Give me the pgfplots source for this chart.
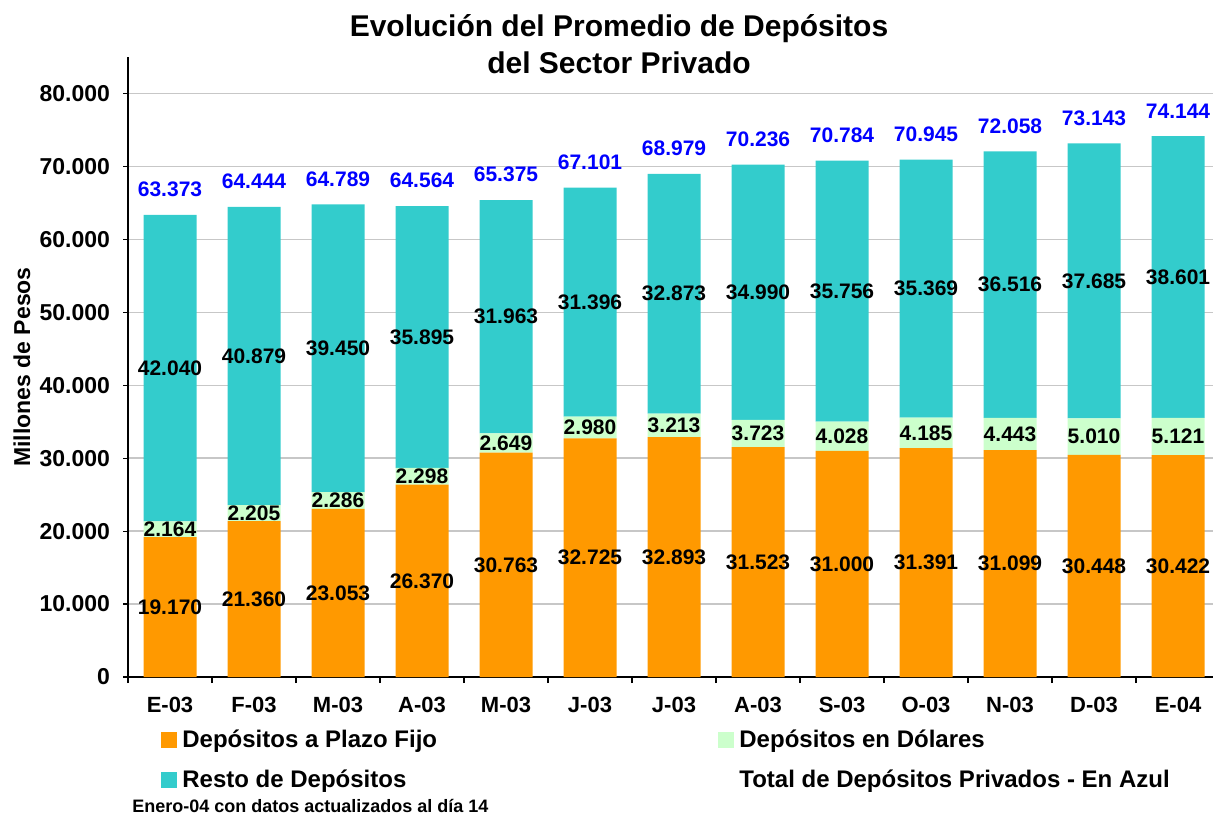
\documentclass[border=0pt]{standalone}
\usepackage{fontspec}
\setmainfont{Liberation Sans}
\usepackage{pgfplots}
\usepackage{pgfplotstable}
\pgfplotsset{compat=1.18}
\definecolor{cOrange}{RGB}{255,153,0}
\definecolor{cTeal}{RGB}{51,204,204}
\definecolor{cGreen}{RGB}{204,255,204}
\definecolor{cBlue}{RGB}{0,0,255}
\newcommand\fs[1]{\fontsize{#1}{#1}\selectfont\bfseries}

\pgfplotstableread{
x a b c tot
0 19170 2164 42040 63373
1 21360 2205 40879 64444
2 23053 2286 39450 64789
3 26370 2298 35895 64564
4 30763 2649 31963 65375
5 32725 2980 31396 67101
6 32893 3213 32873 68979
7 31523 3723 34990 70236
8 31000 4028 35756 70784
9 31391 4185 35369 70945
10 31099 4443 36516 72058
11 30448 5010 37685 73143
12 30422 5121 38601 74144
}\data

\pgfplotsset{
  base/.style={
    scale only axis, width=546pt, height=310pt,
    xmin=-0.5, xmax=12.5, ymin=0, ymax=85000, enlargelimits=false,
    at={(64pt,69.5pt)}, anchor=south west,
    /pgf/number format/fixed, /pgf/number format/precision=0,
    /pgf/number format/1000 sep={.}, /pgf/number format/assume math mode=true,
  }
}

\begin{document}
\begin{tikzpicture}
\useasboundingbox (0,0) rectangle (606.5pt,408pt);
\begin{axis}[base,
  ybar stacked, bar width=26.5pt,
  axis x line*=bottom, axis y line*=left,
  axis line style={black, line width=0.6pt},
  ytick={0,10000,...,80000}, scaled y ticks=false,
  ymajorgrids, grid style={black!22, line width=0.7pt},
  xtick={0,...,12},
  xticklabels={E-03,F-03,M-03,A-03,M-03,J-03,J-03,A-03,S-03,O-03,N-03,D-03,E-04},
  minor xtick={-0.5,0.5,...,12.5},
  tick align=outside, major tick length=2.5pt, minor tick length=3pt,
  tick style={black, line width=0.6pt},
  major x tick style={draw=none},
  xticklabel style={font=\fs{11}, yshift=-4pt},
  yticklabel style={font=\fs{11.5}, xshift=-3pt},
]
\addplot[fill=cOrange, draw=none] table[x=x,y=a]{\data};
\addplot[fill=cGreen, draw=none] table[x=x,y=b]{\data};
\addplot[fill=cTeal, draw=none] table[x=x,y=c]{\data};
\end{axis}
\begin{axis}[base, hide axis, clip=false,
  nodes near coords, point meta=explicit,
  every node near coord/.append style={anchor=center, font=\fs{10.5}, text=black}]
\addplot[draw=none, mark=none] table[x=x, y expr=\thisrow{a}/2, meta=a]{\data};
\addplot[draw=none, mark=none] table[x=x, y expr=\thisrow{a}+\thisrow{b}/2, meta=b]{\data};
\addplot[draw=none, mark=none] table[x=x, y expr=\thisrow{a}+\thisrow{b}+\thisrow{c}/2, meta=c]{\data};
\addplot[draw=none, mark=none, every node near coord/.append style={anchor=south, yshift=5.5pt, text=cBlue}] table[x=x, y=tot, meta=tot]{\data};
\end{axis}
% title
\node[anchor=base, inner sep=0] at (309.5pt,389.5pt) {\fs{15}Evolución del Promedio de Depósitos};
\node[anchor=base, inner sep=0] at (309.5pt,371pt) {\fs{15}del Sector Privado};
% y label
\node[rotate=90, anchor=center, inner sep=0] at (11pt,224.5pt) {\fs{11.5}Millones de Pesos};
% legend
\fill[cOrange] (80.5pt,34pt) rectangle (88.5pt,42pt);
\node[anchor=base west, inner sep=0] at (91pt,34.5pt) {\fs{12}Depósitos a Plazo Fijo};
\fill[cTeal] (80.5pt,14pt) rectangle (88.5pt,22pt);
\node[anchor=base west, inner sep=0] at (91pt,14.5pt) {\fs{12}Resto de Depósitos};
\fill[cGreen] (359pt,34pt) rectangle (367pt,42pt);
\node[anchor=base west, inner sep=0] at (369.5pt,34.5pt) {\fs{12}Depósitos en Dólares};
\node[anchor=base west, inner sep=0] at (369.5pt,14.5pt) {\fs{12}Total de Depósitos Privados - En Azul};
% footnote
\node[anchor=base west, inner sep=0] at (66pt,2pt) {\fs{9}Enero-04 con datos actualizados al día 14};
\end{tikzpicture}
\end{document}
